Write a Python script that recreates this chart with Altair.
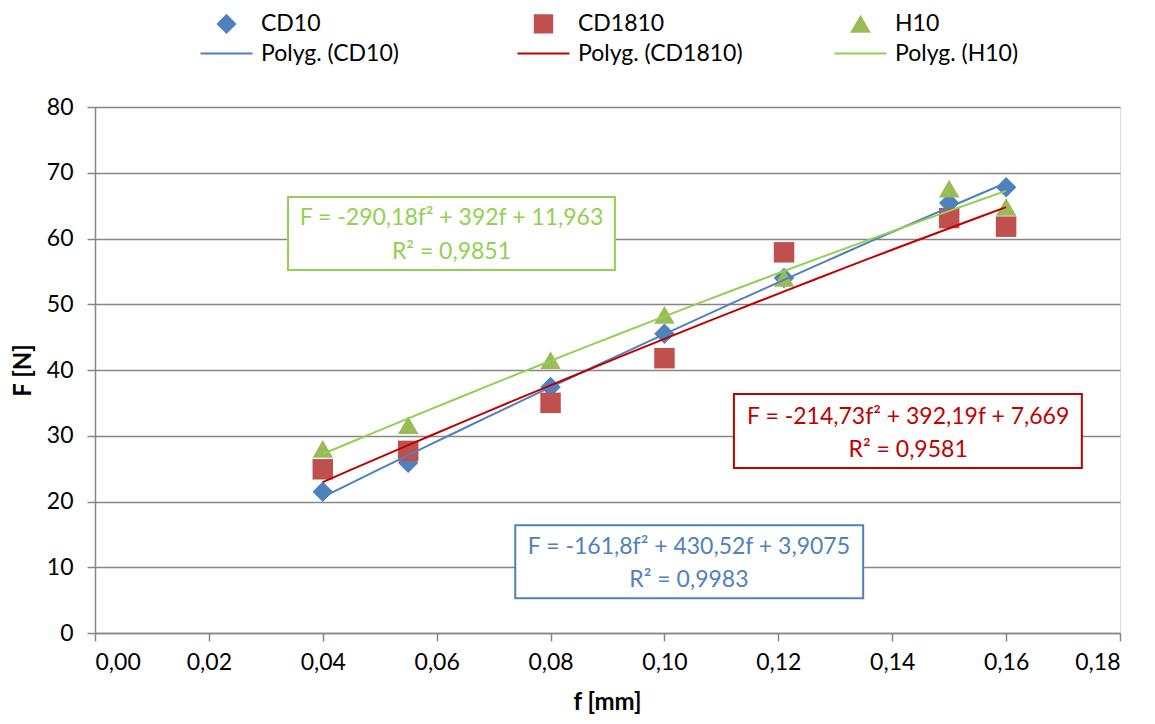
import altair as alt
import pandas as pd

# ---------------- data ----------------
x_vals = [0.04, 0.055, 0.08, 0.10, 0.121, 0.15, 0.16]
cd10 = [21.5, 25.9, 37.4, 45.5, 54.0, 65.4, 67.8]
cd1810 = [24.9, 27.7, 35.0, 41.8, 57.9, 63.1, 61.8]
h10 = [28.0, 31.6, 41.5, 48.4, 54.0, 67.6, 64.8]

series_names = ["CD10", "CD1810", "H10"]
trend_names = ["Polyg. (CD10)", "Polyg. (CD1810)", "Polyg. (H10)"]
marker_colors = ["#4F81BD", "#C0504D", "#9BBB59"]
trend_colors = ["#4F81BD", "#C00000", "#92D050"]
marker_shapes = ["diamond", "square", "triangle-up"]
line_shape = "M-3,0L3,0"

x_ticks = [0.0, 0.02, 0.04, 0.06, 0.08, 0.10, 0.12, 0.14, 0.16, 0.18]
y_ticks = [0, 10, 20, 30, 40, 50, 60, 70, 80]

eq_lines = ["F = -161,8f² + 430,52f + 3,9075",
            "F = -214,73f² + 392,19f + 7,669",
            "F = -290,18f² + 392f + 11,963"]
r2_lines = ["R² = 0,9983", "R² = 0,9581", "R² = 0,9851"]
label_colors = ["#4F81BD", "#C00000", "#92D050"]
# annotation boxes (data coordinates)
box_x1 = [0.0738, 0.1122, 0.0339]
box_x2 = [0.1349, 0.1733, 0.0913]
box_ytop = [16.4, 36.35, 66.3]
box_ybot = [5.3, 25.1, 55.2]
text_cx = [0.1043, 0.1428, 0.0626]
line1_y = [13.1, 32.85, 63.1]
line2_y = [8.05, 27.8, 57.9]

FONT = "Lato"

# ---------------- tables ----------------
rows = []
for name, vals in zip(series_names, [cd10, cd1810, h10]):
    for xv, yv in zip(x_vals, vals):
        rows.append({"f": xv, "F": yv, "series": name})
df = pd.DataFrame(rows)

legend_domain = series_names + trend_names
fill_range = marker_colors + trend_colors
stroke_range = marker_colors + trend_colors
shape_range = marker_shapes + [line_shape] * 3

legend = alt.Legend(
    title=None, orient="none", legendX=120, legendY=-95, columns=3, direction="horizontal",
    gridAlign="all", columnPadding=87, rowPadding=5, labelLimit=400,
    symbolSize=300, symbolStrokeWidth=2, symbolOpacity=1,
    labelOffset=23, labelFont=FONT, labelFontSize=23, labelColor="#000000",
)

x_axis = alt.Axis(
    values=x_ticks, title="f [mm]", grid=False,
    labelExpr="replace(format(datum.value, '.2f'), '.', ',')",
    labelFont=FONT, labelFontSize=23, labelColor="#000000", labelPadding=10,
    titleFont=FONT, titleFontSize=24, titleFontWeight="bold", titleColor="#000000",
    titleX=512, titleY=69, titleBaseline="middle", titleAlign="center",
    domainColor="#868686", domainWidth=1.5, tickColor="#868686", tickWidth=1.5, tickSize=8,
)
y_axis = alt.Axis(
    values=y_ticks, title="F [N]", grid=True, gridColor="#868686", gridWidth=1.5,
    labelFont=FONT, labelFontSize=23, labelColor="#000000", labelPadding=14,
    titleFont=FONT, titleFontSize=24, titleFontWeight="bold", titleColor="#000000",
    titleX=-72, titleY=263, titleAngle=270, titleBaseline="middle", titleAlign="center",
    domainColor="#868686", domainWidth=1.5, tickColor="#868686", tickWidth=1.5, tickSize=8,
)

xs = alt.Scale(domain=[0, 0.18], nice=False, zero=False)
ys = alt.Scale(domain=[0, 80], nice=False)

points = alt.Chart(df).mark_point(filled=True, size=420, opacity=1).encode(
    x=alt.X("f:Q", scale=xs, axis=x_axis),
    y=alt.Y("F:Q", scale=ys, axis=y_axis),
    fill=alt.Fill("series:N", scale=alt.Scale(domain=legend_domain, range=fill_range), legend=legend),
    shape=alt.Shape("series:N", scale=alt.Scale(domain=legend_domain, range=shape_range), legend=legend),
)

lines = alt.Chart(df).transform_regression(
    "f", "F", method="poly", order=2, groupby=["series"]
).transform_calculate(
    series='"Polyg. (" + datum.series + ")"'
).mark_line(strokeWidth=2).encode(
    x=alt.X("f:Q", scale=xs),
    y=alt.Y("F:Q", scale=ys),
    stroke=alt.Stroke("series:N", scale=alt.Scale(domain=legend_domain, range=stroke_range), legend=legend),
)

layers = [points, lines]
for i in range(3):
    bdf = pd.DataFrame({"x1": [box_x1[i]], "x2": [box_x2[i]], "y1": [box_ytop[i]], "y2": [box_ybot[i]],
                        "cx": [text_cx[i]], "l1": [line1_y[i]], "l2": [line2_y[i]],
                        "t1": [eq_lines[i]], "t2": [r2_lines[i]]})
    box = alt.Chart(bdf).mark_rect(fill="white", stroke=label_colors[i], strokeWidth=2).encode(
        x=alt.X("x1:Q", scale=xs), x2="x2:Q", y=alt.Y("y1:Q", scale=ys), y2="y2:Q")
    t1 = alt.Chart(bdf).mark_text(font=FONT, fontSize=23, color=label_colors[i], baseline="middle").encode(
        x=alt.X("cx:Q", scale=xs), y=alt.Y("l1:Q", scale=ys), text="t1:N")
    t2 = alt.Chart(bdf).mark_text(font=FONT, fontSize=23, color=label_colors[i], baseline="middle").encode(
        x=alt.X("cx:Q", scale=xs), y=alt.Y("l2:Q", scale=ys), text="t2:N")
    layers += [box, t1, t2]

chart = alt.layer(*layers).properties(
    width=1025, height=526,
    autosize=alt.AutoSizeParams(type="none"),
    padding={"left": 87, "top": 99, "right": 27, "bottom": 83},
).configure_view(stroke=None).configure(font=FONT)

chart.save("out.html", embed_options={"renderer": "svg", "actions": False})
